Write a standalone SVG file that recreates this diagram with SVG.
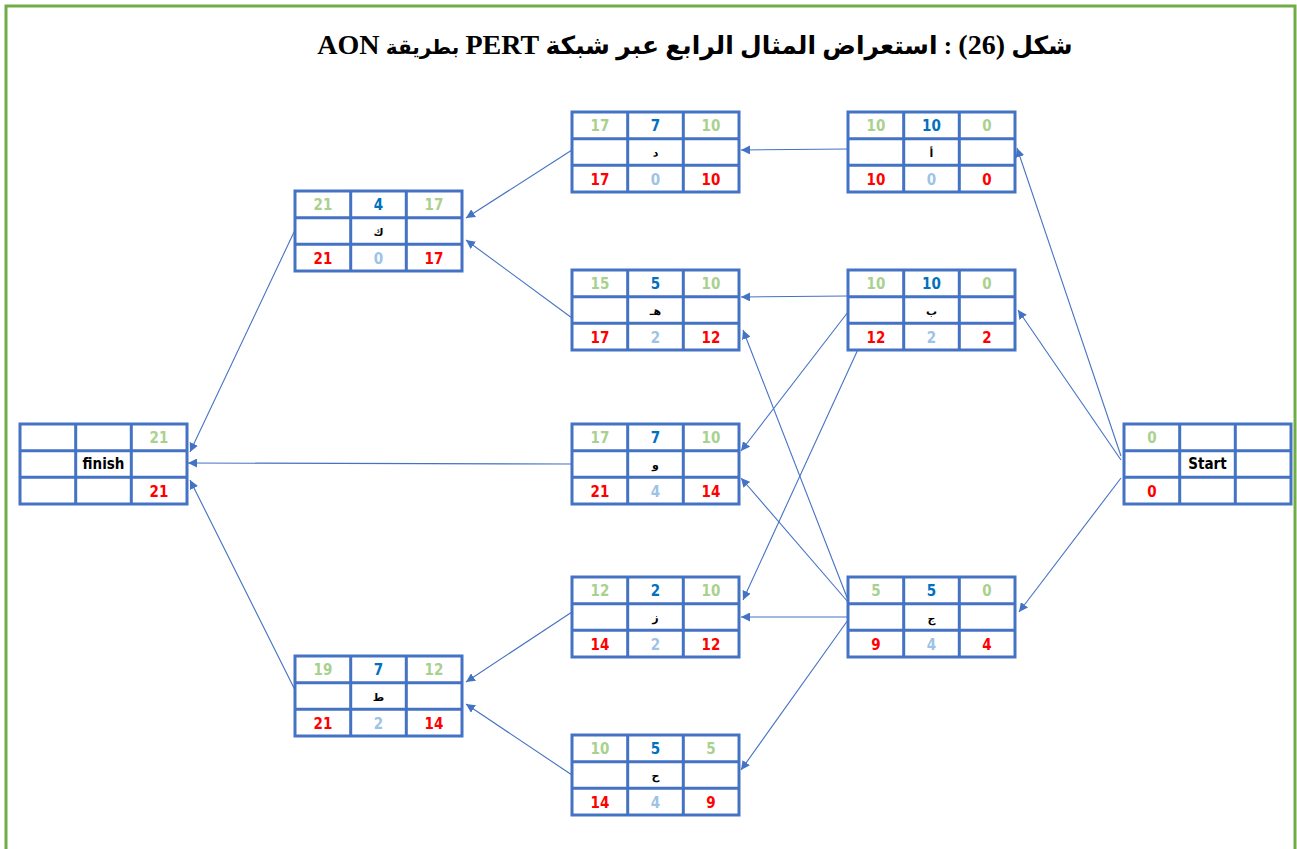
<svg xmlns="http://www.w3.org/2000/svg" width="1297" height="849" viewBox="0 0 1297 849">
  <defs>
    <marker id="arr" viewBox="0 0 10 10" refX="10" refY="5" markerWidth="9" markerHeight="9" markerUnits="userSpaceOnUse" orient="auto">
      <path d="M0,0 L10,5 L0,10 z" fill="#4472C4"/>
    </marker>
    <!-- one 3x3 activity box, 167 x 80 -->
    <g id="box">
      <rect x="0" y="0" width="167" height="80" fill="#FFFFFF" stroke="#4472C4" stroke-width="3"/>
      <path d="M55.7,0 V80 M111.3,0 V80 M0,26.7 H167 M0,53.3 H167" stroke="#4472C4" stroke-width="3" fill="none"/>
    </g>
  </defs>
  <style>
    .num { font-family: "Liberation Sans Narrow", "DejaVu Sans Condensed", "Liberation Sans", sans-serif; font-weight: bold; font-size: 15px; text-anchor: middle; }
    .es { fill: #A9D18E; }
    .du { fill: #0070C0; }
    .fl { fill: #9DC3E6; }
    .lf { fill: #FF0000; }
    .lbl { font-family: "DejaVu Sans", "Noto Sans", sans-serif; font-weight: bold; font-size: 11px; text-anchor: middle; fill: #000000; }
    .word { font-family: "Liberation Sans Narrow", "DejaVu Sans Condensed", sans-serif; font-weight: bold; font-size: 15px; text-anchor: middle; fill: #000000; }
    .edge { stroke: #4472C4; stroke-width: 1.1; fill: none; marker-end: url(#arr); }
    .title { font-family: "Liberation Serif", "DejaVu Serif", "DejaVu Sans", serif; font-weight: bold; font-size: 25px; fill: #000000; text-anchor: middle; }
  </style>

  <rect width="1297" height="849" fill="#FFFFFF"/>
  <!-- page frame -->
  <rect x="6" y="6" width="1289" height="860" fill="none" stroke="#70AD47" stroke-width="3"/>

  <text class="title" x="695" y="54" direction="rtl">شكل <tspan font-size="28">(26)</tspan> : استعراض المثال الرابع عبر شبكة <tspan font-size="28">PERT</tspan> <tspan font-size="20">بطريقة</tspan> <tspan font-size="28">AON</tspan></text>

  <g id="connectors">
    <line class="edge" x1="1121" y1="456" x2="1017" y2="148"/>
    <line class="edge" x1="1121" y1="460" x2="1018" y2="310"/>
    <line class="edge" x1="1121" y1="478" x2="1019" y2="612"/>
    <line class="edge" x1="848" y1="149" x2="741" y2="150"/>
    <line class="edge" x1="848" y1="296" x2="741" y2="297"/>
    <line class="edge" x1="848" y1="312" x2="741" y2="451"/>
    <line class="edge" x1="860" y1="345" x2="743" y2="600"/>
    <line class="edge" x1="848" y1="600" x2="743" y2="330"/>
    <line class="edge" x1="848" y1="602" x2="741" y2="478"/>
    <line class="edge" x1="848" y1="617" x2="741" y2="617"/>
    <line class="edge" x1="848" y1="620" x2="741" y2="770"/>
    <line class="edge" x1="572" y1="150" x2="466" y2="218"/>
    <line class="edge" x1="572" y1="318" x2="466" y2="240"/>
    <line class="edge" x1="572" y1="464" x2="188" y2="463"/>
    <line class="edge" x1="572" y1="612" x2="466" y2="682"/>
    <line class="edge" x1="572" y1="775" x2="466" y2="704"/>
    <line class="edge" x1="295" y1="230" x2="190" y2="452"/>
    <line class="edge" x1="295" y1="690" x2="190" y2="480"/>
  </g>

  <g id="node-a" transform="translate(848,112)">
    <use href="#box"/>
    <text class="num es" x="28" y="19">10</text><text class="num du" x="83.5" y="19">10</text><text class="num es" x="139" y="19">0</text>
    <text class="lbl" x="83.5" y="45">أ</text>
    <text class="num lf" x="28" y="73">10</text><text class="num fl" x="83.5" y="73">0</text><text class="num lf" x="139" y="73">0</text>
  </g>

  <g id="node-d" transform="translate(572,112)">
    <use href="#box"/>
    <text class="num es" x="28" y="19">17</text><text class="num du" x="83.5" y="19">7</text><text class="num es" x="139" y="19">10</text>
    <text class="lbl" x="83.5" y="45">د</text>
    <text class="num lf" x="28" y="73">17</text><text class="num fl" x="83.5" y="73">0</text><text class="num lf" x="139" y="73">10</text>
  </g>

  <g id="node-k" transform="translate(295,191)">
    <use href="#box"/>
    <text class="num es" x="28" y="19">21</text><text class="num du" x="83.5" y="19">4</text><text class="num es" x="139" y="19">17</text>
    <text class="lbl" x="83.5" y="45">ك</text>
    <text class="num lf" x="28" y="73">21</text><text class="num fl" x="83.5" y="73">0</text><text class="num lf" x="139" y="73">17</text>
  </g>

  <g id="node-b" transform="translate(848,270)">
    <use href="#box"/>
    <text class="num es" x="28" y="19">10</text><text class="num du" x="83.5" y="19">10</text><text class="num es" x="139" y="19">0</text>
    <text class="lbl" x="83.5" y="45">ب</text>
    <text class="num lf" x="28" y="73">12</text><text class="num fl" x="83.5" y="73">2</text><text class="num lf" x="139" y="73">2</text>
  </g>

  <g id="node-h" transform="translate(572,270)">
    <use href="#box"/>
    <text class="num es" x="28" y="19">15</text><text class="num du" x="83.5" y="19">5</text><text class="num es" x="139" y="19">10</text>
    <text class="lbl" x="83.5" y="45">هـ</text>
    <text class="num lf" x="28" y="73">17</text><text class="num fl" x="83.5" y="73">2</text><text class="num lf" x="139" y="73">12</text>
  </g>

  <g id="node-start" transform="translate(1124,424)">
    <use href="#box"/>
    <text class="num es" x="28" y="19">0</text>
    <text class="word" x="83.5" y="45">Start</text>
    <text class="num lf" x="28" y="73">0</text>
  </g>

  <g id="node-finish" transform="translate(20,424)">
    <use href="#box"/>
    <text class="num es" x="139" y="19">21</text>
    <text class="word" x="83.5" y="45">finish</text>
    <text class="num lf" x="139" y="73">21</text>
  </g>

  <g id="node-w" transform="translate(572,424)">
    <use href="#box"/>
    <text class="num es" x="28" y="19">17</text><text class="num du" x="83.5" y="19">7</text><text class="num es" x="139" y="19">10</text>
    <text class="lbl" x="83.5" y="45">و</text>
    <text class="num lf" x="28" y="73">21</text><text class="num fl" x="83.5" y="73">4</text><text class="num lf" x="139" y="73">14</text>
  </g>

  <g id="node-z" transform="translate(572,577)">
    <use href="#box"/>
    <text class="num es" x="28" y="19">12</text><text class="num du" x="83.5" y="19">2</text><text class="num es" x="139" y="19">10</text>
    <text class="lbl" x="83.5" y="45">ز</text>
    <text class="num lf" x="28" y="73">14</text><text class="num fl" x="83.5" y="73">2</text><text class="num lf" x="139" y="73">12</text>
  </g>

  <g id="node-j" transform="translate(848,577)">
    <use href="#box"/>
    <text class="num es" x="28" y="19">5</text><text class="num du" x="83.5" y="19">5</text><text class="num es" x="139" y="19">0</text>
    <text class="lbl" x="83.5" y="45">ج</text>
    <text class="num lf" x="28" y="73">9</text><text class="num fl" x="83.5" y="73">4</text><text class="num lf" x="139" y="73">4</text>
  </g>

  <g id="node-t" transform="translate(295,656)">
    <use href="#box"/>
    <text class="num es" x="28" y="19">19</text><text class="num du" x="83.5" y="19">7</text><text class="num es" x="139" y="19">12</text>
    <text class="lbl" x="83.5" y="45">ط</text>
    <text class="num lf" x="28" y="73">21</text><text class="num fl" x="83.5" y="73">2</text><text class="num lf" x="139" y="73">14</text>
  </g>

  <g id="node-hh" transform="translate(572,735)">
    <use href="#box"/>
    <text class="num es" x="28" y="19">10</text><text class="num du" x="83.5" y="19">5</text><text class="num es" x="139" y="19">5</text>
    <text class="lbl" x="83.5" y="45">ح</text>
    <text class="num lf" x="28" y="73">14</text><text class="num fl" x="83.5" y="73">4</text><text class="num lf" x="139" y="73">9</text>
  </g>
</svg>
